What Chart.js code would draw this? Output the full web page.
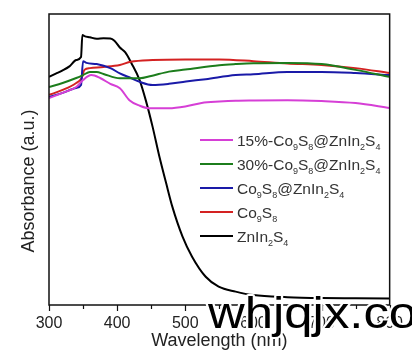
<!DOCTYPE html>
<html>
<head>
<meta charset="utf-8">
<script src="https://cdn.jsdelivr.net/npm/chart.js@4/dist/chart.umd.min.js"></script>
<style>
  html, body { margin: 0; padding: 0; background: #fff; }
  #wrap { width: 412px; height: 361px; }
</style>
</head>
<body>
<div id="wrap"><canvas id="chart" width="412" height="361"></canvas></div>
<script>
// series labels, "_x" means x is a subscript
const seriesLabels = ['15%-Co_9S_8@ZnIn_2S_4', '30%-Co_9S_8@ZnIn_2S_4', 'Co_9S_8@ZnIn_2S_4', 'Co_9S_8', 'ZnIn_2S_4'];
const seriesColors = ['#d63fd6', '#1c7d1c', '#1a1aa8', '#d42222', '#000000'];

const xTicks = [300, 400, 500, 600, 700, 800];

// 15%-Co9S8@ZnIn2S4
const wl15 = [300,320,340,350,362,375,390,404,418,433,447,476,500,524,550,574,600,650,700,750,800];
const abs15 = [71.1,72.9,74.9,77.3,79.0,78.0,76.0,74.5,70.4,68.5,67.6,67.6,68.2,69.4,69.9,70.2,70.3,70.4,70.1,69.4,67.7];

// 30%-Co9S8@ZnIn2S4
const wl30 = [300,320,340,350,360,370,380,404,433,450,476,500,550,574,600,650,700,750,800];
const abs30 = [74.9,76.3,78.0,79.0,80.1,80.1,79.4,77.9,77.9,78.7,80.2,80.9,82.4,82.8,83.1,83.2,82.8,80.8,78.4];

// Co9S8@ZnIn2S4
const wlCZ = [300,320,340,347,350,355,370,390,404,420,433,452,476,501,530,574,600,650,700,750,800];
const absCZ = [71.5,72.9,74.6,75.6,83.8,83.2,82.8,81.4,79.6,78.0,76.7,75.6,76.0,76.8,77.6,79.0,79.3,80.1,80.1,79.7,79.0];

// Co9S8
const wlCo = [300,320,340,348,352,360,380,404,420,452,500,550,600,650,700,750,800];
const absCo = [72.2,73.9,76.3,78.0,80.8,81.4,81.8,82.5,83.6,84.2,84.4,84.4,83.8,83.0,82.5,81.4,79.7];

// ZnIn2S4
const wlZn = [300,310,320,330,340,347,349,352,360,370,380,390,396,404,412,421,433,442,452,462,472,481,496,510,530,549,574,600,650,700,750,800];
const absZn = [78.4,79.5,80.6,82.0,84.2,85.2,92.8,92.4,92.0,91.5,91.7,91.6,90.8,88.5,86.8,83.1,77.3,70.4,61.3,51.0,41.8,33.8,23.5,16.6,9.7,6.3,4.6,3.4,2.7,2.4,2.3,2.2];

const seriesWl = [wl15, wl30, wlCZ, wlCo, wlZn];
const seriesAbs = [abs15, abs30, absCZ, absCo, absZn];

const FONT = 'Liberation Sans, Arial, sans-serif';

function pts(xs, ys) {
  return xs.map((x, i) => ({ x: x, y: ys[i] }));
}

// draws text where "_c" makes c a subscript, returns end x
function richText(ctx, str, x, y, size) {
  let cx = x;
  for (let i = 0; i < str.length; i++) {
    let ch = str[i];
    if (ch === '_' && i + 1 < str.length) {
      ch = str[++i];
      ctx.font = Math.round(size * 0.58) + 'px ' + FONT;
      ctx.fillText(ch, cx, y + size * 0.3);
      cx += ctx.measureText(ch).width;
    } else {
      ctx.font = size + 'px ' + FONT;
      ctx.fillText(ch, cx, y);
      cx += ctx.measureText(ch).width;
    }
  }
  return cx;
}

const decorPlugin = {
  id: 'decor',
  afterDraw(chart) {
    const ctx = chart.ctx;
    const a = chart.chartArea;
    const xs = chart.scales.x;
    ctx.save();

    // frame
    ctx.strokeStyle = '#111';
    ctx.lineWidth = 1.5;
    ctx.strokeRect(a.left, a.top, a.right - a.left, a.bottom - a.top);

    // ticks, major and minor, outward
    ctx.beginPath();
    for (let v = 300; v <= 800; v += 50) {
      const px = Math.round(xs.getPixelForValue(v)) + 0.5;
      const len = v % 100 === 0 ? 6 : 4;
      ctx.moveTo(px, a.bottom);
      ctx.lineTo(px, a.bottom + len);
    }
    ctx.lineWidth = 1.2;
    ctx.stroke();

    // y axis title
    ctx.fillStyle = '#222';
    ctx.font = '18px ' + FONT;
    ctx.textAlign = 'center';
    ctx.textBaseline = 'middle';
    ctx.translate(29, 181);
    ctx.rotate(-Math.PI / 2);
    ctx.fillText('Absorbance (a.u.)', 0, 0);
    ctx.setTransform(1, 0, 0, 1, 0, 0);

    // legend
    ctx.textAlign = 'left';
    ctx.textBaseline = 'alphabetic';
    const rowY = [140, 164, 188, 212, 236];
    seriesLabels.forEach((lab, i) => {
      ctx.strokeStyle = seriesColors[i];
      ctx.lineWidth = 2;
      ctx.beginPath();
      ctx.moveTo(200, rowY[i]);
      ctx.lineTo(233, rowY[i]);
      ctx.stroke();
      ctx.fillStyle = '#333';
      richText(ctx, lab, 237, rowY[i] + 5.5, 15.5);
    });

    // watermark
    ctx.translate(208, 328);
    ctx.scale(1.13, 1);
    ctx.font = '45px ' + FONT;
    ctx.lineWidth = 4;
    ctx.strokeStyle = '#fff';
    ctx.lineJoin = 'round';
    ctx.strokeText('whjqjx.co', 0, 0);
    ctx.fillStyle = '#000';
    ctx.fillText('whjqjx.co', 0, 0);
    ctx.restore();
  }
};

const datasets = seriesLabels.map((lab, i) => ({
  label: lab,
  data: pts(seriesWl[i], seriesAbs[i]),
  borderColor: seriesColors[i],
  borderWidth: 2,
  pointRadius: 0,
  fill: false,
  cubicInterpolationMode: 'monotone'
}));

new Chart(document.getElementById('chart'), {
  type: 'line',
  data: { datasets: datasets },
  options: {
    responsive: false,
    animation: false,
    layout: { padding: { left: 0, right: 18, top: 14, bottom: 5 } },
    plugins: { legend: { display: false }, tooltip: { enabled: false } },
    scales: {
      x: {
        type: 'linear',
        min: 300,
        max: 800,
        afterBuildTicks: (s) => { s.ticks = xTicks.map(v => ({ value: v })); },
        afterFit: (s) => { s.height = 51; },
        ticks: { font: { size: 16, family: FONT }, color: '#222', padding: 9, maxRotation: 0 },
        grid: { display: false, drawTicks: false },
        border: { display: false },
        title: { display: true, text: 'Wavelength (nm)', font: { size: 18, family: FONT }, color: '#222' }
      },
      y: {
        min: 0,
        max: 100,
        afterFit: (s) => { s.width = 49; },
        ticks: { display: false },
        grid: { display: false, drawTicks: false },
        border: { display: false }
      }
    }
  },
  plugins: [decorPlugin]
});
</script>
</body>
</html>
